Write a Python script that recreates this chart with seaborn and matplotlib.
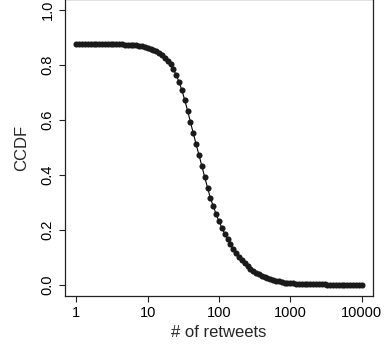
import numpy as np
import matplotlib
matplotlib.use("Agg")
import matplotlib.pyplot as plt
import seaborn as sns
from matplotlib.ticker import FixedLocator, FixedFormatter, NullLocator

# retweet counts: 101 log-spaced points from 1 to 10000
exponents = [i * 0.04 for i in range(101)]
retweets = [10 ** e for e in exponents]

# CCDF values
ccdf = [
    0.875, 0.875, 0.875, 0.875, 0.875, 0.875, 0.875, 0.875, 0.875, 0.875,
    0.875, 0.875, 0.875, 0.875, 0.875, 0.875, 0.875, 0.874, 0.874, 0.873,
    0.872, 0.871, 0.870, 0.868, 0.866, 0.863, 0.859, 0.855, 0.850, 0.844,
    0.836, 0.826, 0.815, 0.802, 0.784, 0.764, 0.738, 0.708, 0.672, 0.633,
    0.592, 0.551, 0.511, 0.472, 0.432, 0.392, 0.353, 0.316, 0.286, 0.258,
    0.232, 0.208, 0.187, 0.167, 0.148, 0.131, 0.115, 0.102, 0.090, 0.079,
    0.069, 0.060, 0.052, 0.045, 0.039, 0.034, 0.029, 0.025, 0.021, 0.018,
    0.015, 0.013, 0.011, 0.009, 0.008, 0.007, 0.006, 0.005, 0.004, 0.004,
    0.003, 0.003, 0.003, 0.002, 0.002, 0.002, 0.002, 0.002, 0.001, 0.001,
    0.001, 0.001, 0.001, 0.001, 0.001, 0.001, 0.001, 0.001, 0.001, 0.001,
    0.001,
]

x_ticks = [1, 10, 100, 1000, 10000]
x_tick_labels = ["1", "10", "100", "1000", "10000"]
y_ticks = [0.0, 0.2, 0.4, 0.6, 0.8, 1.0]
y_tick_labels = ["0.0", "0.2", "0.4", "0.6", "0.8", "1.0"]

sns.set_style("ticks")
plt.rcParams["font.family"] = ["Liberation Sans", "DejaVu Sans"]

fig = plt.figure(figsize=(3.85, 3.52), dpi=100)
ax = fig.add_axes([65 / 385, 56 / 352, 308 / 385, 297 / 352])

sns.lineplot(x=retweets, y=ccdf, ax=ax, color="black", linewidth=0.8,
             marker="o", markersize=4.4, markeredgewidth=0,
             markerfacecolor="#1a1a1a")

ax.set_xscale("log")
ax.set_xlim(10 ** -0.16, 10 ** 4.16)
ax.set_ylim(-0.04, 1.04)

ax.xaxis.set_major_locator(FixedLocator(x_ticks))
ax.xaxis.set_major_formatter(FixedFormatter(x_tick_labels))
ax.xaxis.set_minor_locator(NullLocator())
ax.set_yticks(y_ticks)
ax.set_yticklabels(y_tick_labels, rotation=90, va="center")

for s in ax.spines.values():
    s.set_visible(True)
    s.set_color("#222222")
    s.set_linewidth(0.9)

ax.tick_params(axis="both", direction="out", length=4.5, width=0.8,
               color="#222222", labelsize=10.5, labelcolor="black")
ax.tick_params(axis="x", pad=3)
ax.tick_params(axis="y", pad=3)

ax.set_xlabel("# of retweets", fontsize=12, labelpad=3)
ax.set_ylabel("CCDF", fontsize=12, labelpad=8)

fig.savefig("out.png", dpi=100)
